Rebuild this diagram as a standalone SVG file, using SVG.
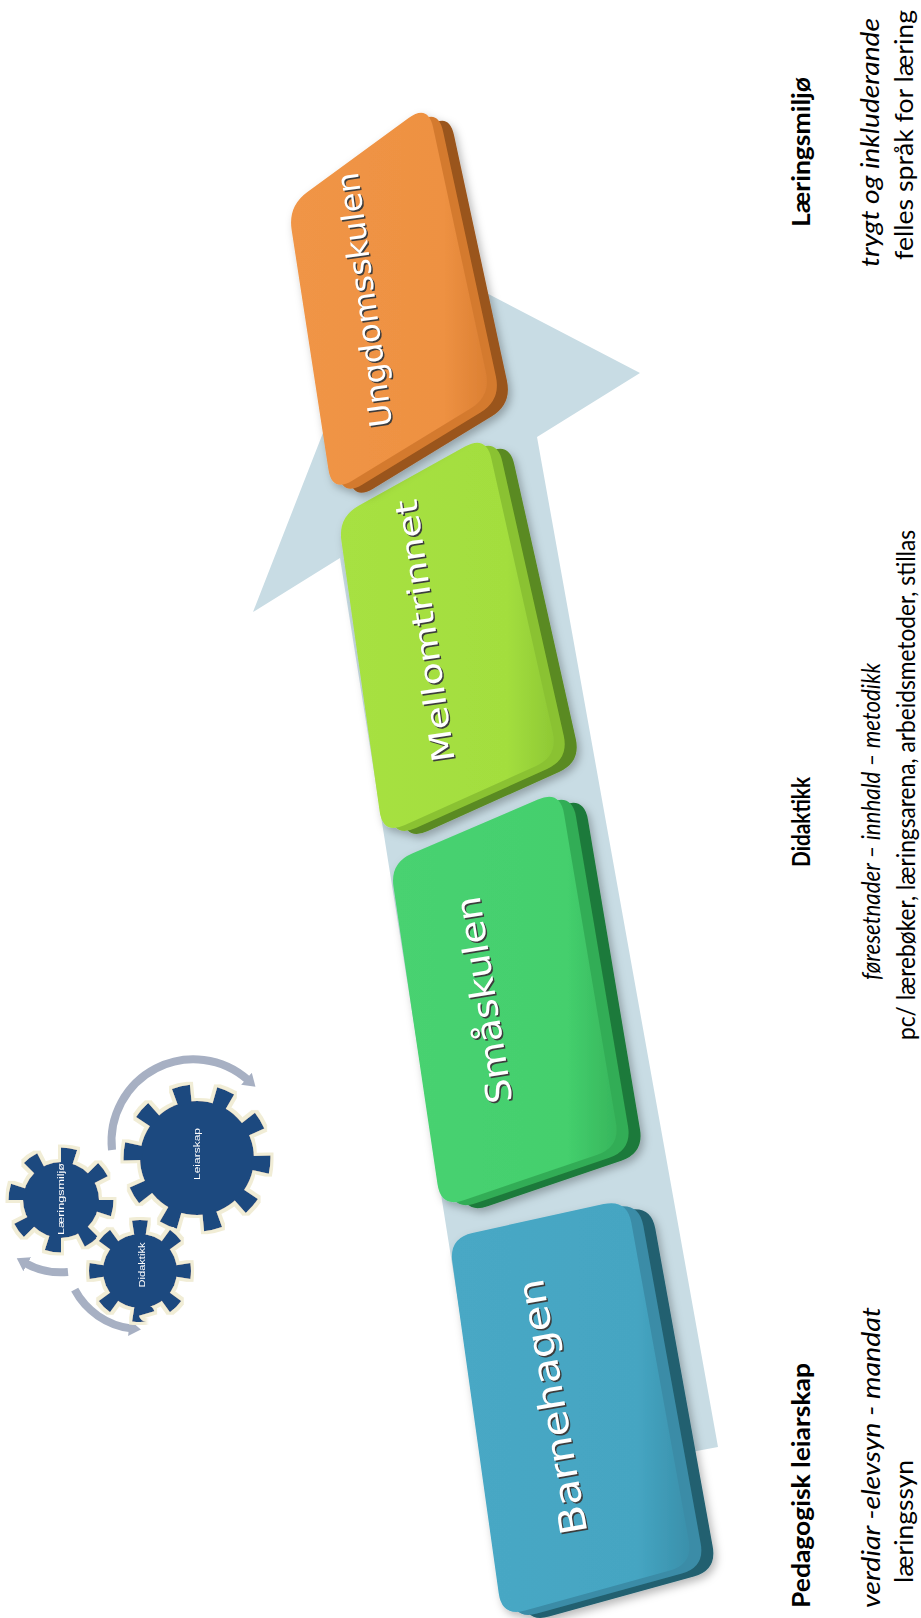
<svg xmlns="http://www.w3.org/2000/svg" xmlns:xlink="http://www.w3.org/1999/xlink" width="921" height="1618" viewBox="0 0 921 1618">
<style>
.hd{font-family:Lato,'Liberation Sans',sans-serif;font-weight:700;font-size:25px;fill:#000}
.it{font-family:Lato,'Liberation Sans',sans-serif;font-style:italic;font-size:25px;fill:#000}
.tx{font-family:Lato,'Liberation Sans',sans-serif;font-size:25px;fill:#000}
.bt{font-family:'DejaVu Sans',Verdana,sans-serif;fill:#fff}
.bs{font-family:'DejaVu Sans',Verdana,sans-serif;fill:#3c3c3c}
.gt{font-family:'Liberation Sans',Arial,sans-serif;font-size:9px;fill:#fff}
.gear{fill:#1F4A7F}
.teeth{fill:none;stroke:#1F4A7F}
.arc{fill:none;stroke:#A7B0C3;stroke-width:8;marker-end:url(#ah)}
</style>
<defs>
<filter id="sh" x="-15%" y="-15%" width="140%" height="140%"><feDropShadow dx="3" dy="4" stdDeviation="4" flood-color="#000" flood-opacity="0.28"/></filter>
<filter id="halo" x="-20%" y="-20%" width="140%" height="140%"><feMorphology in="SourceAlpha" operator="dilate" radius="2.5" result="d"/><feFlood flood-color="#F1EDD6"/><feComposite in2="d" operator="in" result="h"/><feMerge><feMergeNode in="h"/><feMergeNode in="SourceGraphic"/></feMerge></filter>
<marker id="ah" markerUnits="userSpaceOnUse" markerWidth="20" markerHeight="20" viewBox="0 0 20 20" refX="2" refY="10" orient="auto"><path d="M0,2 L12,10 L0,18 Z" fill="#A7B0C3"/></marker>
<linearGradient id="gOr" x1="0" y1="0" x2="1" y2="0"><stop offset="0" stop-color="#F09546"/><stop offset="0.78" stop-color="#EE9142"/><stop offset="1" stop-color="#DC8033"/></linearGradient>
<linearGradient id="gLi" x1="0" y1="0" x2="1" y2="0"><stop offset="0" stop-color="#A7E142"/><stop offset="0.78" stop-color="#A3DE3E"/><stop offset="1" stop-color="#8FC935"/></linearGradient>
<linearGradient id="gGr" x1="0" y1="0" x2="1" y2="0"><stop offset="0" stop-color="#48D271"/><stop offset="0.78" stop-color="#44CF6D"/><stop offset="1" stop-color="#37B65C"/></linearGradient>
<linearGradient id="gBl" x1="0" y1="0" x2="1" y2="0"><stop offset="0" stop-color="#48A8C5"/><stop offset="0.78" stop-color="#45A5C2"/><stop offset="1" stop-color="#3A90AB"/></linearGradient>
<path id="fUng" d="M307.4,191.9 L408.6,118.1 Q428,104 433.1,127.5 L485.9,372.5 Q491,396 470.5,408.5 L352.5,480.5 Q332,493 328.4,469.3 L291.6,229.7 Q288,206 307.4,191.9 Z"/>
<path id="fMel" d="M359,505.4 L465,446.6 Q486,435 491.3,458.4 L552.7,732.6 Q558,756 536.1,765.9 L404.9,825.1 Q383,835 379.6,811.2 L341.4,540.8 Q338,517 359,505.4 Z"/>
<path id="fSma" d="M412.1,853.5 L537.9,799.5 Q560,790 564,813.7 L616,1123.3 Q620,1147 597.3,1154.8 L463.7,1200.2 Q441,1208 437.5,1184.3 L393.5,886.7 Q390,863 412.1,853.5 Z"/>
<path id="fBar" d="M472.4,1232.9 L603.6,1204.1 Q627,1199 631.3,1222.6 L688.7,1540.4 Q693,1564 669.9,1570.4 L525.1,1610.6 Q502,1617 498.7,1593.2 L452.3,1261.8 Q449,1238 472.4,1232.9 Z"/>
</defs>
<rect width="921" height="1618" fill="#fff"/>

<g id="big-arrow">
<polygon points="396,246 640,373 537,437 718,1447 488,1490 340,558 253,612" fill="#C8DCE4"/>
</g>

<g id="node-barnehagen" filter="url(#sh)">
<use href="#fBar" transform="translate(24,6)" fill="#23606F"/>
<use href="#fBar" transform="translate(12,3)" fill="#3A8CA7"/>
<use href="#fBar" fill="url(#gBl)"/>
<text class="bs" font-size="37" text-anchor="middle" dy="0.36em" textLength="259" lengthAdjust="spacingAndGlyphs" transform="translate(553.5,1408.5) rotate(-100)">Barnehagen</text>
<text class="bt" font-size="37" text-anchor="middle" dy="0.36em" textLength="259" lengthAdjust="spacingAndGlyphs" transform="translate(552,1407) rotate(-100)">Barnehagen</text>
</g>

<g id="node-smaskulen" filter="url(#sh)">
<use href="#fSma" transform="translate(24,6)" fill="#1F7A3A"/>
<use href="#fSma" transform="translate(12,3)" fill="#33AD56"/>
<use href="#fSma" fill="url(#gGr)"/>
<text class="bs" font-size="35" text-anchor="middle" dy="0.36em" textLength="209" lengthAdjust="spacingAndGlyphs" transform="translate(485,1001.5) rotate(-99.1)">Småskulen</text>
<text class="bt" font-size="35" text-anchor="middle" dy="0.36em" textLength="209" lengthAdjust="spacingAndGlyphs" transform="translate(483.5,1000) rotate(-99.1)">Småskulen</text>
</g>

<g id="node-mellomtrinnet" filter="url(#sh)">
<use href="#fMel" transform="translate(23,6)" fill="#5A8A20"/>
<use href="#fMel" transform="translate(11,3)" fill="#8AC233"/>
<use href="#fMel" fill="url(#gLi)"/>
<text class="bs" font-size="31" text-anchor="middle" dy="0.36em" textLength="265" lengthAdjust="spacingAndGlyphs" transform="translate(426,632.5) rotate(-98.3)">Mellomtrinnet</text>
<text class="bt" font-size="31" text-anchor="middle" dy="0.36em" textLength="265" lengthAdjust="spacingAndGlyphs" transform="translate(424.5,631) rotate(-98.3)">Mellomtrinnet</text>
</g>

<g id="node-ungdomsskulen" filter="url(#sh)">
<use href="#fUng" transform="translate(21,8)" fill="#9A551C"/>
<use href="#fUng" transform="translate(10,4)" fill="#D47A2F"/>
<use href="#fUng" fill="url(#gOr)"/>
<text class="bs" font-size="31" text-anchor="middle" dy="0.36em" textLength="257" lengthAdjust="spacingAndGlyphs" transform="translate(365.5,301.5) rotate(-97.7)">Ungdomsskulen</text>
<text class="bt" font-size="31" text-anchor="middle" dy="0.36em" textLength="257" lengthAdjust="spacingAndGlyphs" transform="translate(364,300) rotate(-97.7)">Ungdomsskulen</text>
</g>

<g id="connectors">
<path class="arc" d="M112,1150 A82,82 0 0 1 248,1080"/>
<path class="arc" d="M68,1272 A73,73 0 0 1 25.5,1263.2"/>
<path class="arc" d="M74.7,1289.7 A74,74 0 0 0 131,1328.4"/>
</g>

<g id="gear-leiarskap" filter="url(#halo)">
<circle class="gear" cx="197" cy="1158" r="57"/>
<circle class="teeth" cx="197" cy="1158" r="64" stroke-width="19" pathLength="100" stroke-dasharray="4 6" transform="rotate(-2 197 1158)"/>
<text class="gt" text-anchor="middle" dy="0.35em" textLength="52" lengthAdjust="spacingAndGlyphs" transform="translate(197,1154) rotate(-90)">Leiarskap</text>
</g>
<g id="gear-laeringsmiljo" filter="url(#halo)">
<circle class="gear" cx="61" cy="1200" r="38"/>
<circle class="teeth" cx="61" cy="1200" r="44" stroke-width="17" pathLength="100" stroke-dasharray="5 7.5"/>
<text class="gt" text-anchor="middle" dy="0.35em" textLength="72" lengthAdjust="spacingAndGlyphs" transform="translate(61,1199) rotate(-90)">Læringsmiljø</text>
</g>
<g id="gear-didaktikk" filter="url(#halo)">
<circle class="gear" cx="140" cy="1271" r="37"/>
<circle class="teeth" cx="140" cy="1271" r="43" stroke-width="16" pathLength="100" stroke-dasharray="5 7.5" transform="rotate(-9 140 1271)"/>
<text class="gt" text-anchor="middle" dy="0.35em" textLength="45" lengthAdjust="spacingAndGlyphs" transform="translate(142,1265) rotate(-90)">Didaktikk</text>
</g>

<g id="text-leiarskap">
<text class="hd" text-anchor="middle" textLength="245" lengthAdjust="spacingAndGlyphs" transform="translate(810,1485.5) rotate(-90)">Pedagogisk leiarskap</text>
<text class="it" text-anchor="middle" textLength="301" lengthAdjust="spacingAndGlyphs" transform="translate(880,1457.5) rotate(-90)">verdiar -elevsyn - mandat</text>
<text class="tx" text-anchor="middle" textLength="123" lengthAdjust="spacingAndGlyphs" transform="translate(913,1521.5) rotate(-90)">læringssyn</text>
</g>

<g id="text-didaktikk">
<text class="hd" text-anchor="middle" textLength="90" lengthAdjust="spacingAndGlyphs" transform="translate(810,822) rotate(-90)">Didaktikk</text>
<text class="it" text-anchor="middle" textLength="317" lengthAdjust="spacingAndGlyphs" transform="translate(880,821.5) rotate(-90)">føresetnader – innhald – metodikk</text>
<text class="tx" text-anchor="middle" textLength="510" lengthAdjust="spacingAndGlyphs" transform="translate(915,785) rotate(-90)">pc/ lærebøker, læringsarena, arbeidsmetoder, stillas</text>
</g>

<g id="text-laeringsmiljo">
<text class="hd" text-anchor="middle" textLength="150" lengthAdjust="spacingAndGlyphs" transform="translate(810,152) rotate(-90)">Læringsmiljø</text>
<text class="it" text-anchor="middle" textLength="249" lengthAdjust="spacingAndGlyphs" transform="translate(879,142.5) rotate(-90)">trygt og inkluderande</text>
<text class="tx" text-anchor="middle" textLength="250" lengthAdjust="spacingAndGlyphs" transform="translate(913,135) rotate(-90)">felles språk for læring</text>
</g>
</svg>
